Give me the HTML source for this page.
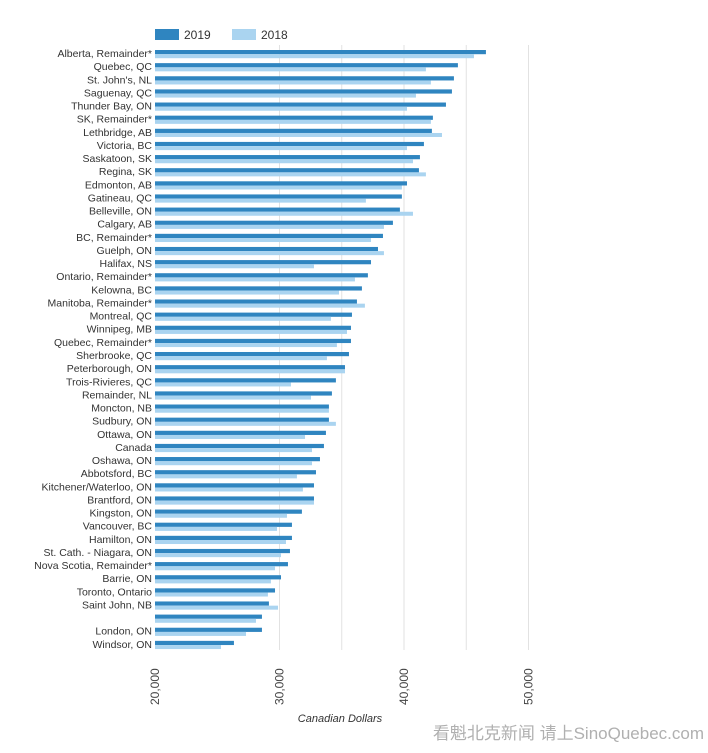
<!DOCTYPE html>
<html><head><meta charset="utf-8"><style>
body{margin:0;background:#fff;width:708px;height:748px;overflow:hidden;font-family:"Liberation Sans",Arial,sans-serif}
svg text{font-family:"Liberation Sans",Arial,sans-serif}
</style></head><body>
<svg id="chart" width="708" height="748" xmlns="http://www.w3.org/2000/svg">
<g>
<rect x="155" y="29" width="24" height="11" fill="#2f85c0"/>
<text x="184" y="39" font-size="12" fill="#333">2019</text>
<rect x="232" y="29" width="24" height="11" fill="#aad4f0"/>
<text x="261" y="39" font-size="12" fill="#333">2018</text>
</g>
<g id="grid"></g><g id="bars"></g><g id="labels"></g><g id="ticks"></g>
<text x="340" y="722" font-size="11" font-style="italic" fill="#333" text-anchor="middle">Canadian Dollars</text>
<text x="704" y="739" font-size="17" fill="#b0b0b0" text-anchor="end" style="font-family:'Liberation Sans','Noto Sans CJK SC',sans-serif">看魁北克新闻 请上SinoQuebec.com</text>
</svg>
<script>
const categories=["Alberta, Remainder*","Quebec, QC","St. John's, NL","Saguenay, QC","Thunder Bay, ON","SK, Remainder*","Lethbridge, AB","Victoria, BC","Saskatoon, SK","Regina, SK","Edmonton, AB","Gatineau, QC","Belleville, ON","Calgary, AB","BC, Remainder*","Guelph, ON","Halifax, NS","Ontario, Remainder*","Kelowna, BC","Manitoba, Remainder*","Montreal, QC","Winnipeg, MB","Quebec, Remainder*","Sherbrooke, QC","Peterborough, ON","Trois-Rivieres, QC","Remainder, NL","Moncton, NB","Sudbury, ON","Ottawa, ON","Canada","Oshawa, ON","Abbotsford, BC","Kitchener/Waterloo, ON","Brantford, ON","Kingston, ON","Vancouver, BC","Hamilton, ON","St. Cath. - Niagara, ON","Nova Scotia, Remainder*","Barrie, ON","Toronto, Ontario","Saint John, NB","","London, ON","Windsor, ON"];
const values2019=[46580,44330,44010,43850,43370,42320,42240,41600,41280,41200,40240,39830,39670,39110,38310,37910,37350,37100,36620,36220,35820,35740,35740,35580,35260,34530,34210,33970,33970,33730,33570,33250,32930,32770,32770,31800,31000,31000,30840,30680,30120,29640,29150,28590,28590,26340];
const values2018=[45620,41760,42160,40960,40240,42160,43050,40240,40720,41760,39830,36940,40720,38390,37350,38390,32770,36060,34780,36860,34130,35420,34610,33810,35260,30920,32530,33970,34530,32050,32610,32610,31400,31880,32770,30600,29800,30520,30120,29640,29310,29070,29880,28110,27310,25300];
const tickValues=[20000,30000,40000,50000];
const gridValues=[30000,35000,40000,45000,50000];
const NS="http://www.w3.org/2000/svg";
const x0=155, pxPer=124.5/10000, vMin=20000;
const xs=v=>x0+(v-vMin)*pxPer;
const rowTop=i=>50+i*13.13;
function mk(t,a){const e=document.createElementNS(NS,t);for(const k in a)e.setAttribute(k,a[k]);return e;}
const grid=document.getElementById('grid'),bars=document.getElementById('bars'),labels=document.getElementById('labels'),ticks=document.getElementById('ticks');
gridValues.forEach(v=>{const l=mk('line',{x1:xs(v),x2:xs(v),y1:45,y2:650,stroke:'#e2e2e2','stroke-width':1});


grid.appendChild(l);});
categories.forEach((c,i)=>{
 const y=rowTop(i);
 const b1=mk('rect',{x:x0,y:y,width:xs(values2019[i])-x0,height:4.2,fill:'#2f85c0'});
 
 
 bars.appendChild(b1);
 const b2=mk('rect',{x:x0,y:y+4.2,width:xs(values2018[i])-x0,height:4,fill:'#aad4f0'});
 
 
 bars.appendChild(b2);
 const t=mk('text',{x:152,y:y+7,'font-size':10.5,fill:'#333','text-anchor':'end'});
 
 
 t.textContent=c;labels.appendChild(t);
});
tickValues.forEach(v=>{const x=xs(v)+4;const t=mk('text',{x:x,y:705,'font-size':12,fill:'#444',transform:`rotate(-90 ${x} 705)`});


t.textContent=v.toLocaleString('en-US');ticks.appendChild(t);});
</script>
</body></html>
